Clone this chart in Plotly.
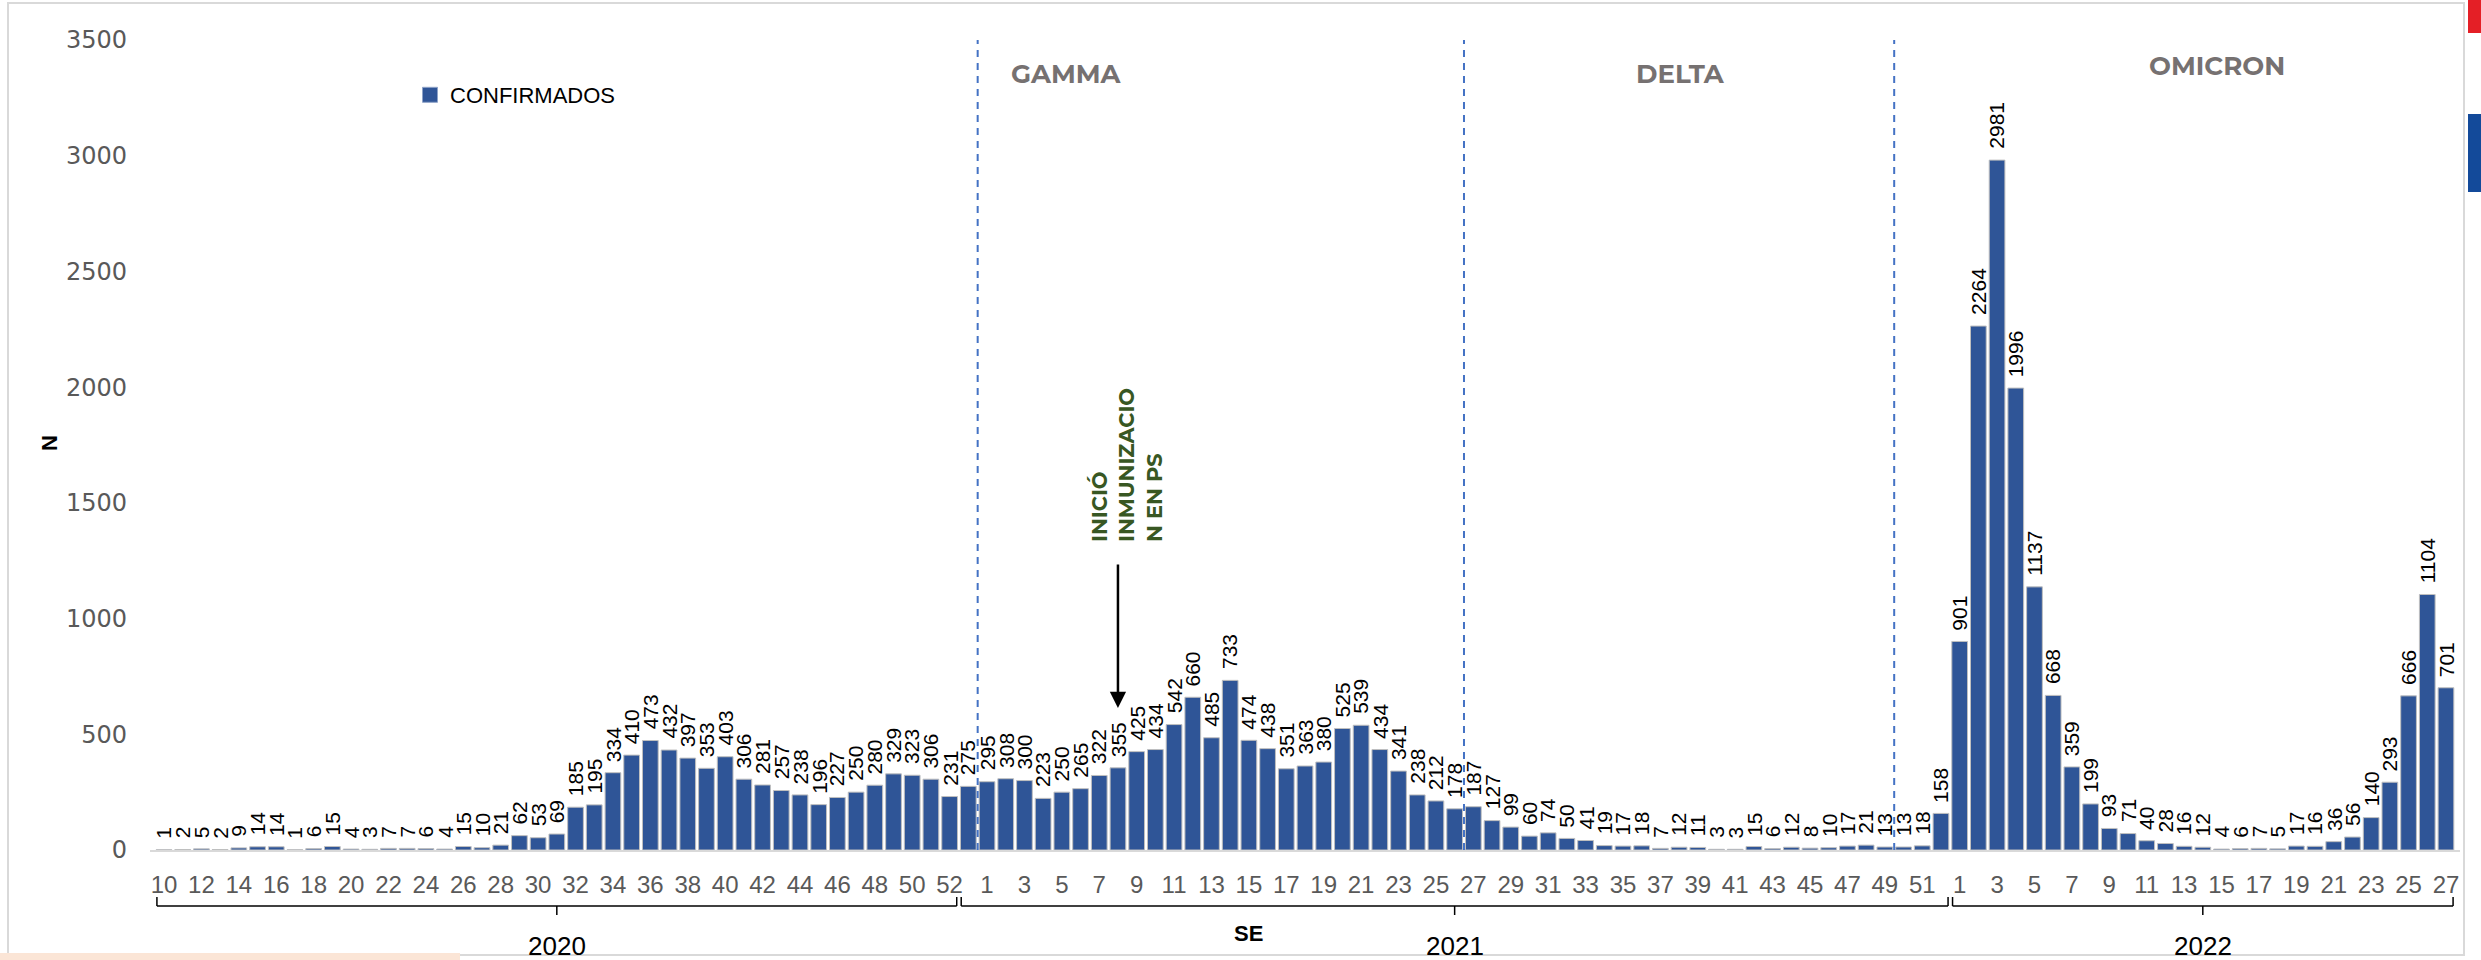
import plotly.graph_objects as go

# ---------------- data ----------------
weeks_2020 = list(range(10, 53))
vals_2020 = [1, 2, 5, 2, 9, 14, 14, 1, 6, 15, 4, 3, 7, 7, 6, 4, 15, 10, 21, 62,
             53, 69, 185, 195, 334, 410, 473, 432, 397, 353, 403, 306, 281, 257,
             238, 196, 227, 250, 280, 329, 323, 306, 231]
weeks_2021 = [53] + list(range(1, 53))
vals_2021 = [275, 295, 308, 300, 223, 250, 265, 322, 355, 425, 434, 542, 660, 485,
             733, 474, 438, 351, 363, 380, 525, 539, 434, 341, 238, 212, 178, 187,
             127, 99, 60, 74, 50, 41, 19, 17, 18, 7, 12, 11, 3, 3, 15, 6, 12, 8,
             10, 17, 21, 13, 13, 18, 158]
weeks_2022 = list(range(1, 28))
vals_2022 = [901, 2264, 2981, 1996, 1137, 668, 359, 199, 93, 71, 40, 28, 16, 12,
             4, 6, 7, 5, 17, 16, 36, 56, 140, 293, 666, 1104, 701]
years = ["2020", "2021", "2022"]
variants = ["GAMMA", "DELTA", "OMICRON"]
series_name = "CONFIRMADOS"
y_ticks = [0, 500, 1000, 1500, 2000, 2500, 3000, 3500]

groups = [weeks_2020, weeks_2021, weeks_2022]
weeks = weeks_2020 + weeks_2021 + weeks_2022
values = vals_2020 + vals_2021 + vals_2022
idx = list(range(len(values)))

# ---------------- layout geometry ----------------
W, H = 2481, 960
ml, mr, mt, mb = 150, 21, 40, 110
pw, ph = W - ml - mr, H - mt - mb


def pxx(p):
    return (p - ml) / pw


def pxy(p):
    return 1 - (p - mt) / ph


BAR = "#2F5597"
LBL_FONT = "Liberation Sans, Arial, sans-serif"
HEAD_FONT = "Montserrat, Noto Sans, Open Sans, sans-serif"
TICKY_FONT = "DejaVu Sans, Verdana, sans-serif"

fig = go.Figure()
fig.add_trace(go.Bar(
    x=idx, y=values, name=series_name, width=0.84,
    marker=dict(color=BAR, line=dict(color="#BFBFBF", width=1)),
    showlegend=False, hoverinfo="y",
))
# legend entry (square swatch)
fig.add_trace(go.Scatter(
    x=[None], y=[None], mode="markers", name=series_name,
    marker=dict(symbol="square", size=15, color=BAR, line=dict(color="#8FA3C8", width=1)),
    showlegend=True,
))

annotations = []
# data labels
for i, v in zip(idx, values):
    annotations.append(dict(
        x=i, y=v, xref="x", yref="y", text=str(v), showarrow=False,
        textangle=-90, xanchor="center", yanchor="bottom", yshift=9,
        font=dict(family=LBL_FONT, size=21, color="#000000"),
    ))

shapes = []
# group boundaries (in index units)
bounds = []
start = 0
for g in groups:
    bounds.append((start - 0.5, start + len(g) - 0.5))
    start += len(g)

# variant dividers: between 2020w53 and 2021w1, 2021w26/27, 2021w49/50
div_pos = [
    len(weeks_2020) + weeks_2021.index(1) - 0.5,
    len(weeks_2020) + weeks_2021.index(27) - 0.5,
    len(weeks_2020) + weeks_2021.index(50) - 0.5,
]
for d in div_pos:
    shapes.append(dict(type="line", xref="x", yref="paper", x0=d, x1=d,
                       y0=0, y1=1, line=dict(color="#4472C4", width=2, dash="7px,6px")))

# variant headers
head_pos = [(1066, 74), (1680, 74), (2217, 66)]
for name, (hx, hy) in zip(variants, head_pos):
    annotations.append(dict(
        x=pxx(hx), y=pxy(hy), xref="paper", yref="paper", text="<b>" + name + "</b>",
        showarrow=False, xanchor="center", yanchor="middle",
        font=dict(family=HEAD_FONT, size=26, color="#767171"),
    ))

# year brackets
yb = pxy(906)
yb_up = pxy(897)
yb_dn = pxy(915)
for (b0, b1), yr in zip(bounds, years):
    a0, a1 = b0 + 0.12, b1 - 0.12
    mid = (b0 + b1) / 2
    ln = dict(color="#000000", width=1.5)
    shapes.append(dict(type="line", xref="x", yref="paper", x0=a0, x1=a1, y0=yb, y1=yb, line=ln))
    shapes.append(dict(type="line", xref="x", yref="paper", x0=a0, x1=a0, y0=yb, y1=yb_up, line=ln))
    shapes.append(dict(type="line", xref="x", yref="paper", x0=a1, x1=a1, y0=yb, y1=yb_up, line=ln))
    shapes.append(dict(type="line", xref="x", yref="paper", x0=mid, x1=mid, y0=yb, y1=yb_dn, line=ln))
    annotations.append(dict(
        x=mid, y=pxy(946), xref="x", yref="paper", text=yr, showarrow=False,
        xanchor="center", yanchor="middle",
        font=dict(family=LBL_FONT, size=26, color="#000000"),
    ))

# axis titles
annotations.append(dict(x=pxx(1248), y=pxy(933), xref="paper", yref="paper", text="<b>SE</b>",
                        showarrow=False, xanchor="center", yanchor="middle",
                        font=dict(family=LBL_FONT, size=22, color="#000000")))
annotations.append(dict(x=pxx(49), y=pxy(443), xref="paper", yref="paper", text="<b>N</b>",
                        showarrow=False, xanchor="center", yanchor="middle", textangle=-90,
                        font=dict(family=LBL_FONT, size=22, color="#000000")))

# immunization arrow + text
arrow_i = len(weeks_2020) + weeks_2021.index(8)
annotations.append(dict(
    x=arrow_i, y=614, ax=arrow_i, ay=1240, xref="x", yref="y", axref="x", ayref="y",
    text="", showarrow=True, arrowhead=2, arrowsize=1.3, arrowwidth=2.5, arrowcolor="#000000",
))
annotations.append(dict(
    x=pxx(1127), y=pxy(465), xref="paper", yref="paper",
    text="<b>INICIÓ<br>INMUNIZACIO<br>N EN PS</b>", showarrow=False, textangle=-90,
    align="left", xanchor="center", yanchor="middle",
    font=dict(family=HEAD_FONT, size=21, color="#385723"),
))

# frame and decorative edge pieces
shapes.append(dict(type="rect", xref="paper", yref="paper", x0=pxx(8), x1=pxx(2464),
                   y0=pxy(955), y1=pxy(3), line=dict(color="#D9D9D9", width=2), layer="below"))
shapes.append(dict(type="rect", xref="paper", yref="paper", x0=pxx(0), x1=pxx(460),
                   y0=pxy(960), y1=pxy(953), line=dict(width=0), fillcolor="#FBE5D6"))
shapes.append(dict(type="rect", xref="paper", yref="paper", x0=pxx(2468), x1=pxx(2481),
                   y0=pxy(33), y1=pxy(0), line=dict(width=0), fillcolor="#E41F26"))
shapes.append(dict(type="rect", xref="paper", yref="paper", x0=pxx(2468), x1=pxx(2481),
                   y0=pxy(192), y1=pxy(114), line=dict(width=0), fillcolor="#134A9A"))

tickvals = idx[::2]
ticktext = [str(weeks[i]) for i in tickvals]

fig.update_layout(
    width=W, height=H, autosize=False,
    margin=dict(l=ml, r=mr, t=mt, b=mb),
    paper_bgcolor="#FFFFFF", plot_bgcolor="#FFFFFF",
    showlegend=True,
    legend=dict(x=pxx(410), y=pxy(95), xanchor="left", yanchor="middle",
                bgcolor="rgba(0,0,0,0)", font=dict(family=LBL_FONT, size=22, color="#000000")),
    xaxis=dict(range=[-0.75, len(values) - 1 + 0.75], tickvals=tickvals, ticktext=ticktext,
               tickangle=0, showgrid=False, zeroline=False, showline=True, linecolor="#D9D9D9",
               linewidth=2, ticks="", ticklabelstandoff=12,
               tickfont=dict(family=LBL_FONT, size=24, color="#595959")),
    yaxis=dict(range=[0, 3500], tickvals=y_ticks, showgrid=False, zeroline=False,
               showline=False, ticks="", ticklabelstandoff=22,
               tickfont=dict(family=TICKY_FONT, size=24, color="#595959")),
    annotations=annotations,
    shapes=shapes,
)

fig.write_html("out.html", config={"displayModeBar": False},
               post_script="document.body.style.margin='0px';")
